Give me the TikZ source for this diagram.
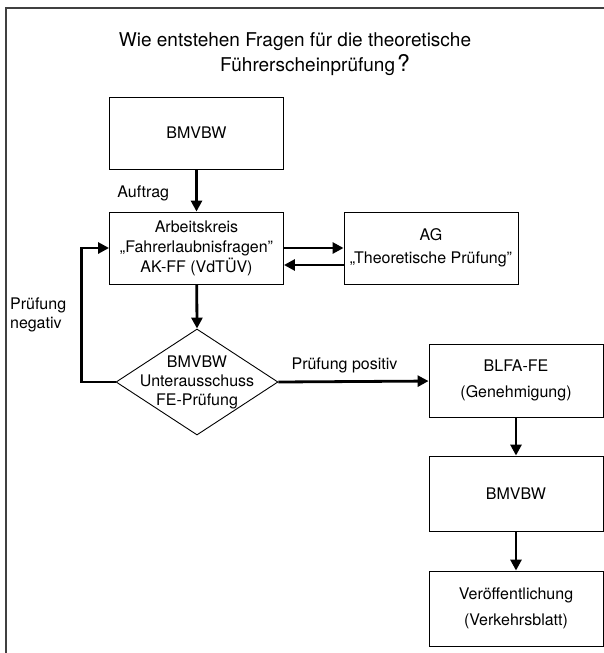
\documentclass[tikz,border=0pt]{standalone}
\usepackage{fontspec}
\setmainfont{TeX Gyre Heros}
\usepackage{tikz}
\usetikzlibrary{shapes.geometric, arrows.meta, positioning, calc}

\begin{document}
\begin{tikzpicture}[x=1pt, y=-1pt,
    box/.style={draw, line width=0.9pt, minimum width=174pt, minimum height=73pt, align=center, font=\fontsize{16}{20}\selectfont},
    tallbox/.style={box, minimum height=75pt, font=\fontsize{16}{25.5}\selectfont},
    decision/.style={draw, diamond, line width=0.9pt, inner sep=0pt, minimum width=162pt, minimum height=106pt},
    flow/.style={line width=2.8pt, -{Triangle[length=11pt,width=11pt]}},
    lbl/.style={font=\fontsize{16}{19}\selectfont, inner sep=0pt}]
    \useasboundingbox (0,0) rectangle (604,653);

    \draw[line width=1.8pt, black!75] (6,660) -- (6,8) -- (610,8);

    \node[font=\fontsize{19}{22}\selectfont] (title1) at (295,42) {Wie entstehen Fragen für die theoretische};
    \node[font=\fontsize{19}{22}\selectfont] (title2) at (315,65) {Führerscheinprüfung\kern2pt{\fontsize{23}{23}\selectfont ?}};

    \node[box, minimum height=72pt] (bmvbw) at (196.5,133) {BMVBW};
    \node[box, minimum height=72pt] (akff) at (196.5,248) {Arbeitskreis\\„Fahrerlaubnisfragen”\\AK-FF (VdTÜV)};
    \node[box, minimum height=72pt, font=\fontsize{16}{23}\selectfont] (agtp) at (431,248) {AG\\„Theoretische Prüfung”};
    \node[decision] (ufe) at (197,382) {};
    \node[lbl, align=center] (ufetext) at (ufe) {BMVBW\\Unterausschuss\\FE-Prüfung};

    \node[tallbox, minimum height=73pt] (blfa) at (516,380.5) {BLFA-FE\\(Genehmigung)};
    \node[tallbox] (bmvbwb) at (516,493.5) {BMVBW};
    \node[tallbox] (veroeff) at (516,608.5) {Veröffentlichung\\(Verkehrsblatt)};

    \draw[flow] (bmvbw) -- node[lbl, pos=0.58, left=26pt] {Auftrag} (akff);
    \draw[flow] (akff.east) -- (agtp.west);
    \draw[flow] ([yshift=-17pt]agtp.west) -- ([yshift=-17pt]akff.east);
    \draw[flow] (akff) -- (ufe.north);
    \draw[flow] (ufe.west) -- ++(-34,0) |- node[lbl, pos=0.25, left=14pt, align=left] {Prüfung\\negativ} (akff.west);
    \draw[flow] (ufe.east) -- node[lbl, pos=0.44, above=7pt] {Prüfung positiv} (blfa);
    \draw[flow] (blfa) -- (bmvbwb);
    \draw[flow] (bmvbwb) -- (veroeff);
  \end{tikzpicture}
\end{document}
